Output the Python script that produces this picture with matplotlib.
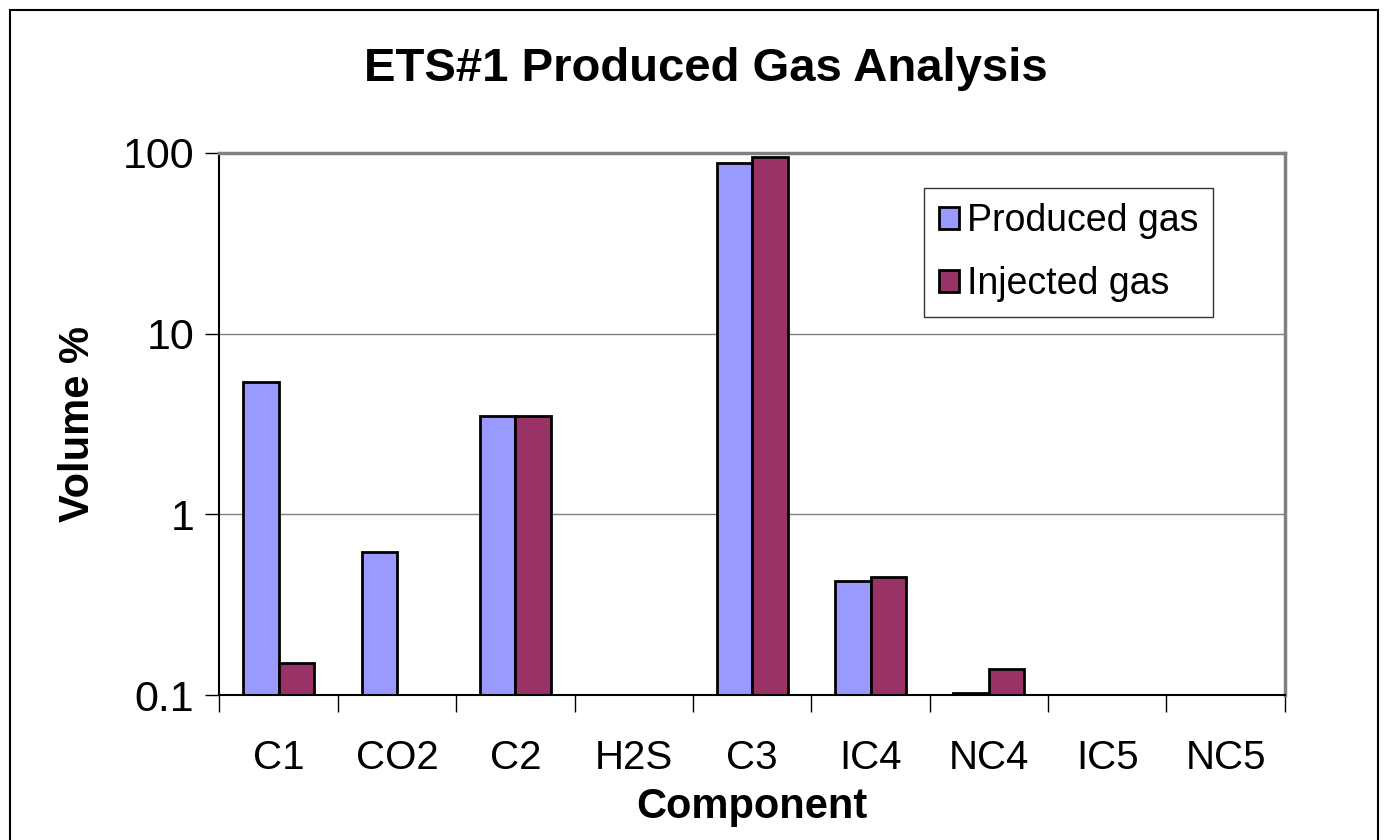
import numpy as np
import matplotlib
matplotlib.use("Agg")
import matplotlib.pyplot as plt
from matplotlib.patches import Rectangle

plt.rcParams["font.family"] = ["Liberation Sans", "DejaVu Sans"]

components = ["C1", "CO2", "C2", "H2S", "C3", "IC4", "NC4", "IC5", "NC5"]
produced = [5.4, 0.62, 3.5, np.nan, 88.0, 0.43, 0.103, np.nan, np.nan]
injected = [0.15, np.nan, 3.5, np.nan, 95.0, 0.45, 0.14, np.nan, np.nan]
yticks = [0.1, 1, 10, 100]
ytick_labels = ["0.1", "1", "10", "100"]

PROD_COLOR = "#9999ff"
INJ_COLOR = "#993366"

fig = plt.figure(figsize=(13.89, 8.40), dpi=100)
ax = fig.add_axes([0.158, 0.1726, 0.767, 0.6453])

x = np.arange(len(components))
w = 0.3
ax.bar(x - w / 2, produced, width=w, color=PROD_COLOR, edgecolor="black",
       linewidth=2, label="Produced gas")
ax.bar(x + w / 2, injected, width=w, color=INJ_COLOR, edgecolor="black",
       linewidth=2, label="Injected gas")

ax.set_yscale("log")
ax.set_ylim(0.1, 100)
ax.set_xlim(-0.5, len(components) - 0.5)
ax.set_yticks(yticks)
ax.set_yticklabels(ytick_labels, fontsize=31)
ax.yaxis.set_minor_locator(matplotlib.ticker.NullLocator())
ax.grid(axis="y", color="#808080", linewidth=1)
ax.set_axisbelow(True)

# category labels at centers, tick marks at boundaries
ax.set_xticks(x)
ax.set_xticklabels(components, fontsize=29)
ax.tick_params(axis="x", length=0, pad=32)
ax.set_xticks(np.arange(len(components) + 1) - 0.5, minor=True)
ax.tick_params(axis="x", which="minor", length=12, width=1, color="black")
ax.tick_params(axis="y", length=10, width=1, pad=8)

for s in ["top", "right"]:
    ax.spines[s].set_color("#808080")
    ax.spines[s].set_linewidth(2.5)
for s in ["left", "bottom"]:
    ax.spines[s].set_color("black")
    ax.spines[s].set_linewidth(1.5)

ax.set_xlabel("Component", fontsize=30, fontweight="bold", labelpad=7)
ax.set_ylabel("Volume %", fontsize=30, fontweight="bold", labelpad=18)
fig.text(0.508, 0.918, "ETS#1 Produced Gas Analysis", ha="center", va="center",
         fontsize=34, fontweight="bold")

leg = ax.legend(loc="upper right", bbox_to_anchor=(0.933, 0.935), fontsize=27,
                frameon=True, fancybox=False, edgecolor="black",
                handlelength=0.55, handleheight=0.55, handletextpad=0.2,
                labelspacing=0.72, borderpad=0.4, borderaxespad=0)
leg.get_frame().set_linewidth(1)

fig.patches.append(Rectangle((10 / 1389, -0.05), 1368 / 1389, 1.05 - 10 / 840,
                             transform=fig.transFigure, fill=False,
                             edgecolor="black", linewidth=1.5))

fig.savefig("out.png", dpi=100)
